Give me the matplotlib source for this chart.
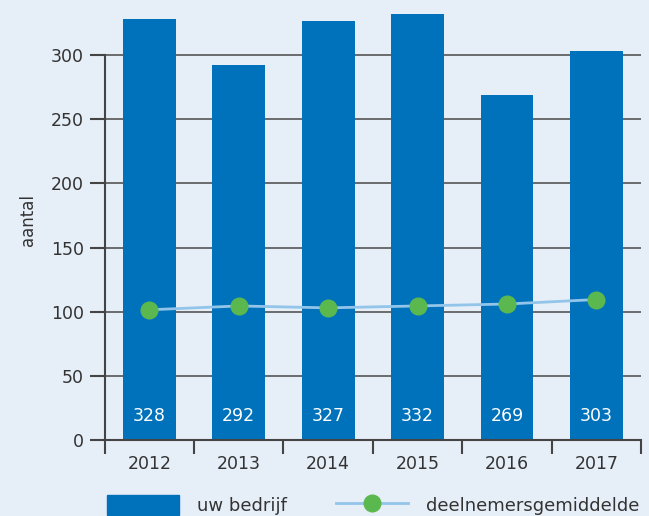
import numpy as np
import matplotlib.pyplot as plt
from matplotlib.lines import Line2D
from matplotlib.patches import Patch

# data
years = ['2012', '2013', '2014', '2015', '2016', '2017']
bedrijf = [328, 292, 327, 332, 269, 303]
gemiddelde = [101.5, 104.5, 103, 104.5, 106, 109.5]

bg = '#E6EEF8'
barCol = '#0072BB'
dotCol = '#5BB84F'
lineCol = '#93C5EA'
txtCol = '#333333'

plt.rcParams['font.family'] = ['DejaVu Sans']

fig = plt.figure(figsize=(6.49, 5.16), dpi=100, facecolor=bg)
ax = fig.add_axes([0.1613, 0.1473, 0.8264, 0.8527], facecolor=bg)

x = np.arange(len(years))
ax.bar(x, bedrijf, width=0.59, color=barCol, zorder=2)
ax.plot(x, gemiddelde, color=lineCol, lw=2, zorder=3)
ax.plot(x, gemiddelde, 'o', color=dotCol, ms=12, zorder=4)

for xi, v in zip(x, bedrijf):
    ax.text(xi, 19, str(v), color='white', ha='center', va='center', fontsize=12.5, zorder=5)

ax.set_xlim(-0.5, 5.5)
ax.set_ylim(0, 343)
ax.set_yticks(np.arange(0, 301, 50))
ax.set_xticks(x)
ax.set_xticklabels(years)
ax.set_xticks(np.arange(-0.5, 5.6, 1), minor=True)
ax.tick_params(axis='x', which='major', length=0, pad=11, labelsize=12.5, labelcolor=txtCol)
ax.tick_params(axis='x', which='minor', length=10, width=1.5, color='#444444')
ax.tick_params(axis='y', length=11, width=1.5, color='#444444', labelsize=12.5, labelcolor=txtCol, pad=4)
ax.yaxis.grid(True, color='#555555', lw=1.2, zorder=1)
ax.set_axisbelow(True)
for s in ['top', 'right']:
    ax.spines[s].set_visible(False)
ax.spines['left'].set_color('#444444')
ax.spines['left'].set_linewidth(1.5)
ax.spines['left'].set_bounds(0, 300)
ax.spines['bottom'].set_color('#444444')
ax.spines['bottom'].set_linewidth(1.5)
ax.set_ylabel('aantal', fontsize=12, color=txtCol, labelpad=10)

handles = [Patch(color=barCol),
           Line2D([0], [0], color=lineCol, lw=2, marker='o', ms=12,
                  markerfacecolor=dotCol, markeredgecolor=dotCol)]
fig.legend(handles, ['uw bedrijf', 'deelnemersgemiddelde'], ncol=2, frameon=False,
           loc='lower left', bbox_to_anchor=(0.14, -0.03), fontsize=13,
           handlelength=4.0, handleheight=1.3, columnspacing=2.7, handletextpad=1.0,
           labelcolor=txtCol)

fig.savefig('out.png', dpi=100, facecolor=bg)
